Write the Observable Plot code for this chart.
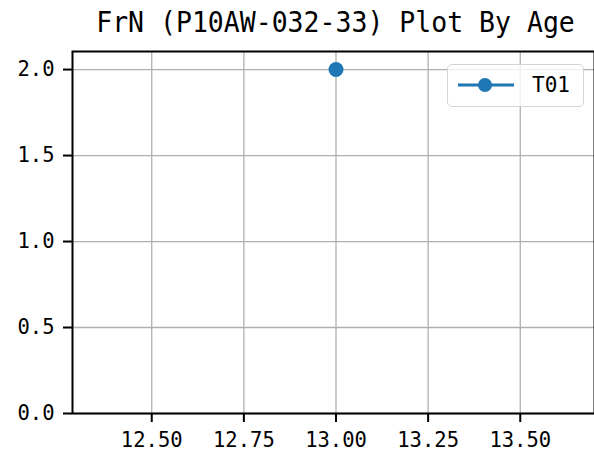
<!DOCTYPE html>
<html>
<head>
<meta charset="utf-8">
<script src="https://cdn.jsdelivr.net/npm/d3@7"></script>
<script src="https://cdn.jsdelivr.net/npm/@observablehq/plot@0.6"></script>
<style>
  html, body { margin: 0; padding: 0; background: #fff; }
  #wrap { position: relative; width: 594px; height: 455px; overflow: hidden; }
  #title { position: absolute; left: 72px; width: 527px; top: 8px; text-align: center;
    font-family: "DejaVu Sans Mono", "Liberation Mono", monospace; font-size: 26.5px; line-height: 30px;
    color: #000; white-space: nowrap; transform: scaleY(1.08); transform-origin: 50% 100%; }
  #chart { position: absolute; left: 0; top: 46px; }
  #legend { position: absolute; left: 447px; top: 64px; width: 137px; height: 43px;
    border: 1.5px solid #d5d5d5; border-radius: 5px; background: rgba(255,255,255,0.8);
    box-sizing: border-box; }
  #legend svg { position: absolute; left: 8px; top: 6px; }
  #legend span { position: absolute; left: 84px; top: 7px; font-family: "DejaVu Sans Mono", monospace;
    font-size: 21px; line-height: 26px; color: #000; }
</style>
</head>
<body>
<div id="wrap">
  <div id="title">FrN (P10AW-032-33) Plot By Age</div>
  <div id="chart"></div>
  <div id="legend"><svg width="60" height="30"><line x1="2" x2="58" y1="14" y2="14" stroke="#1f77b4" stroke-width="3"/><circle cx="29" cy="14" r="7" fill="#1f77b4"/></svg><span id="legLabel"></span></div>
</div>
<script>
const series = ["T01"];
const ages = [13.0];
const values = [2.0];
const xTicks = [12.5, 12.75, 13.0, 13.25, 13.5];
const yTicks = [0.0, 0.5, 1.0, 1.5, 2.0];
const xDomain = [12.285, 13.715];
const yDomain = [0, 2.105];

const data = ages.map((a, i) => ({age: a, value: values[i], series: series[0]}));
document.getElementById("legLabel").textContent = series[0];

const W = 594, H = 409;
const chart = Plot.plot({
  width: W,
  height: H,
  marginLeft: 72,
  marginRight: 0,
  marginTop: 5,
  marginBottom: 42,
  style: {fontFamily: "DejaVu Sans Mono, Liberation Mono, monospace", fontSize: "21px", color: "#000", background: "#fff", overflow: "visible"},
  x: {domain: xDomain, range: [72, 599], ticks: xTicks, tickFormat: d3.format(".2f"), label: null},
  y: {domain: yDomain, ticks: yTicks, tickFormat: d3.format(".1f"), label: null},
  marks: [
    Plot.gridX(xTicks, {stroke: "#b0b0b0", strokeOpacity: 1, strokeWidth: 1.3}),
    Plot.gridY(yTicks, {stroke: "#b0b0b0", strokeOpacity: 1, strokeWidth: 1.3}),
    Plot.axisX(xTicks, {tickSize: 9, tickPadding: 10, strokeWidth: 2, tickFormat: d3.format(".2f"), label: null, fontSize: 20.5}),
    Plot.axisY(yTicks, {tickSize: 9, tickPadding: 9, strokeWidth: 2, tickFormat: d3.format(".1f"), label: null, fontSize: 20.5}),
    Plot.frame({stroke: "#000", strokeWidth: 2}),
    Plot.line(data, {x: "age", y: "value", stroke: "#1f77b4", strokeWidth: 3}),
    Plot.dot(data, {x: "age", y: "value", r: 7.5, fill: "#1f77b4", stroke: null})
  ]
});
document.getElementById("chart").appendChild(chart);
</script>
</body>
</html>
